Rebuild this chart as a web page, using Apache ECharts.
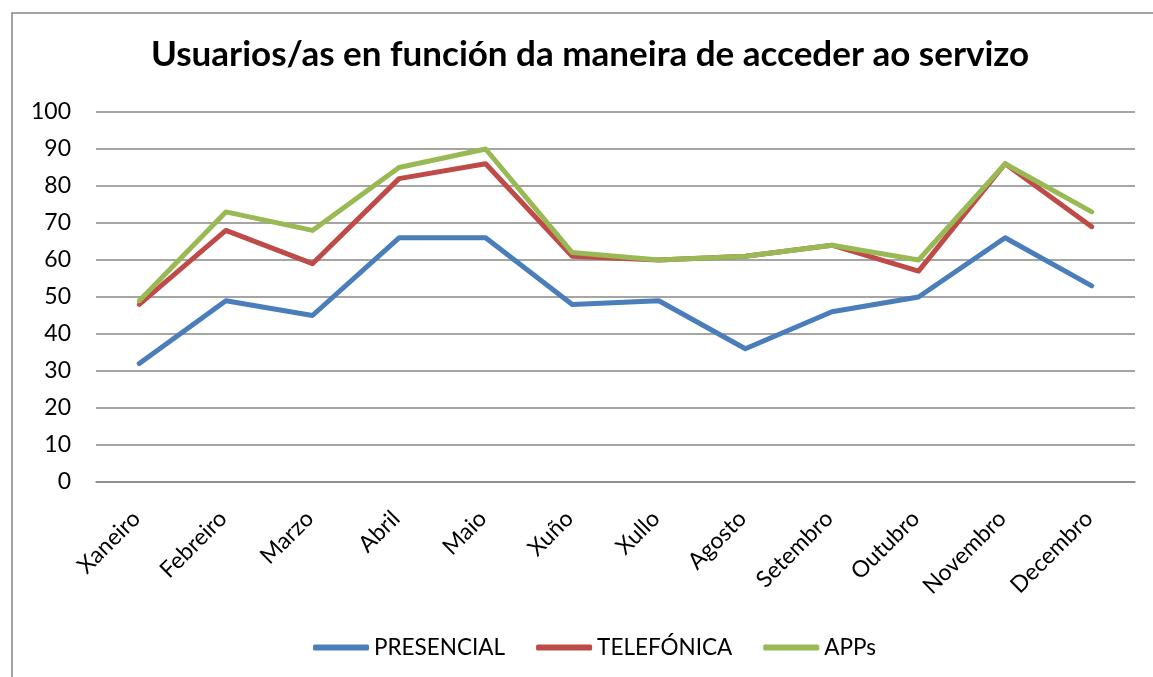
<!DOCTYPE html>
<html>
<head>
<meta charset="utf-8">
<script src="https://cdn.jsdelivr.net/npm/echarts@6/dist/echarts.min.js"></script>
<style>
  html, body { margin: 0; padding: 0; background: #fff; }
  #chart { width: 1153px; height: 677px; }
</style>
</head>
<body>
<div id="chart"></div>
<script>
// meses
var meses = ['Xaneiro', 'Febreiro', 'Marzo', 'Abril', 'Maio', 'Xuño', 'Xullo', 'Agosto', 'Setembro', 'Outubro', 'Novembro', 'Decembro'];
// series
var presencial = [32, 49, 45, 66, 66, 48, 49, 36, 46, 50, 66, 53];
var telefonica = [48, 68, 59, 82, 86, 61, 60, 61, 64, 57, 86, 69];
var apps = [49, 73, 68, 85, 90, 62, 60, 61, 64, 60, 86, 73];

var fonte = 'Lato';
var gris = '#878787';

var chart = echarts.init(document.getElementById('chart'));

function serie(nome, datos, cor) {
  return {
    name: nome,
    type: 'line',
    data: datos,
    symbol: 'none',
    lineStyle: { color: cor, width: 5, cap: 'round', join: 'round' },
    itemStyle: { color: cor },
    animation: false
  };
}

var option = {
  animation: false,
  textStyle: { fontFamily: fonte, color: '#000' },
  graphic: [{
    type: 'rect',
    shape: { x: 12, y: 13, width: 1300, height: 800 },
    style: { fill: 'none', stroke: gris, lineWidth: 1.5 },
    silent: true
  }],
  title: {
    text: 'Usuarios/as en función da maneira de acceder ao servizo',
    left: 146,
    top: 32,
    textStyle: { fontFamily: fonte, fontWeight: 'bold', fontSize: 35, color: '#000' }
  },
  legend: {
    left: 308,
    top: 631,
    icon: 'roundRect',
    itemWidth: 56,
    itemHeight: 6,
    itemGap: 31,
    textStyle: { fontFamily: fonte, fontSize: 22.5, color: '#000', padding: [0, 0, 0, 0] },
    data: ['PRESENCIAL', 'TELEFÓNICA', 'APPs']
  },
  grid: { left: 96, right: 18, top: 112, bottom: 195 },
  xAxis: {
    type: 'category',
    data: meses,
    boundaryGap: true,
    axisLine: { show: true, lineStyle: { color: gris, width: 1.5 } },
    axisTick: { show: false },
    axisLabel: { rotate: 45, margin: 30, padding: [0, 4, 0, 0], fontSize: 23, fontFamily: fonte, color: '#000', interval: 0 }
  },
  yAxis: {
    type: 'value',
    min: 0,
    max: 100,
    interval: 10,
    axisLine: { show: false },
    axisTick: { show: false },
    axisLabel: { margin: 25, fontSize: 23, fontFamily: fonte, color: '#000' },
    splitLine: { lineStyle: { color: gris, width: 1.5 } }
  },
  series: [
    serie('PRESENCIAL', presencial, '#4A7EBB'),
    serie('TELEFÓNICA', telefonica, '#BE4B48'),
    serie('APPs', apps, '#98B954')
  ]
};

chart.setOption(option);
</script>
</body>
</html>
